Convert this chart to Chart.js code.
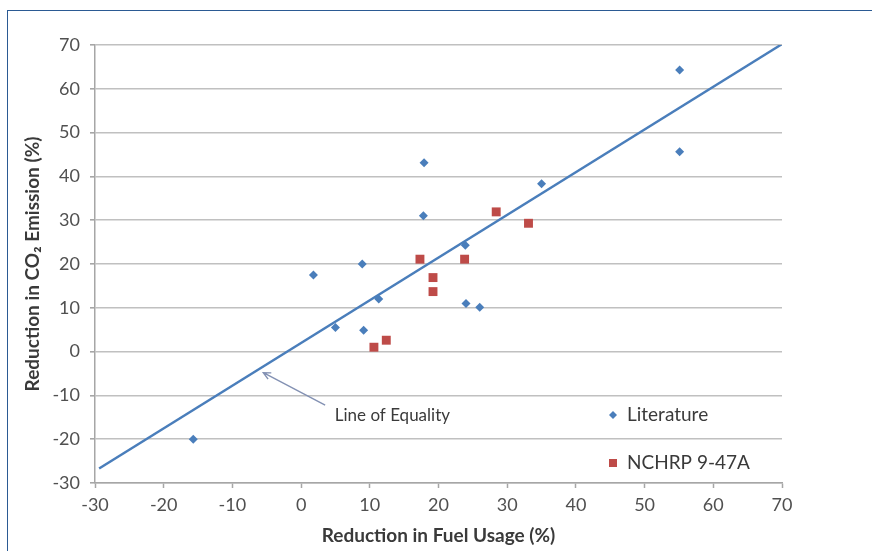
<!DOCTYPE html>
<html>
<head>
<meta charset="utf-8">
<script src="https://cdn.jsdelivr.net/npm/chart.js@4.4.1/dist/chart.umd.min.js"></script>
<style>
  html, body { margin: 0; padding: 0; background: #ffffff; }
  #wrap { position: relative; width: 872px; height: 551px; }
  #frame {
    position: absolute; left: 7px; top: 10px; width: 900px; height: 600px;
    border-left: 1.5px solid #2b5a93; border-top: 1.5px solid #2b5a93;
  }
  canvas { position: absolute; left: 0; top: 0; }
</style>
</head>
<body>
<div id="wrap">
  <div id="frame"></div>
  <canvas id="co2Chart" width="872" height="551"></canvas>
</div>
<script>
// Literature points (fuel reduction %, CO2 reduction %)
const literatureX = [-15.7, 1.8, 5.0, 8.9, 9.1, 11.3, 17.8, 17.9, 23.9, 24.0, 26.0, 35.0, 55.1, 55.1];
const literatureY = [-20.0, 17.5, 5.5, 20.0, 4.9, 12.0, 31.0, 43.1, 24.3, 11.0, 10.1, 38.3, 45.6, 64.3];

// NCHRP 9-47A points
const nchrpX = [10.6, 12.4, 17.3, 19.2, 19.2, 23.8, 28.4, 33.1];
const nchrpY = [1.0, 2.6, 21.1, 16.9, 13.7, 21.1, 31.9, 29.3];

// Line of equality end points
const equalityX = [-29.4, 70];
const equalityY = [-26.7, 70.2];

const xTicks = [-30, -20, -10, 0, 10, 20, 30, 40, 50, 60, 70];
const yTicks = [-30, -20, -10, 0, 10, 20, 30, 40, 50, 60, 70];

const seriesNames = ['Literature', 'NCHRP 9-47A'];
const annotationText = 'Line of Equality';
// arrow tip / tail and label anchor, in data units
const arrowTip = [-5.5, -4.8];
const arrowTail = [3.5, -12.2];
const labelAt = [4.9, -14.6];

const blue = '#4a7ebb';
const red = '#be4b48';
const font = 'Lato, "Open Sans", sans-serif';

const toPoints = (xs, ys) => xs.map((x, i) => ({ x: x, y: ys[i] }));

// draws the arrow note and the legend inside the plot
const extrasPlugin = {
    id: 'extras',
    afterDatasetsDraw(chart) {
        const ctx = chart.ctx;
        const xs = chart.scales.x, ys = chart.scales.y;
        const area = chart.chartArea;

        // arrow
        const tx = xs.getPixelForValue(arrowTip[0]), ty = ys.getPixelForValue(arrowTip[1]);
        const fx = xs.getPixelForValue(arrowTail[0]), fy = ys.getPixelForValue(arrowTail[1]);
        ctx.save();
        ctx.strokeStyle = '#8391b3';
        ctx.lineWidth = 1.4;
        ctx.beginPath();
        ctx.moveTo(fx, fy);
        ctx.lineTo(tx, ty);
        const ang = Math.atan2(ty - fy, tx - fx);
        const head = 8;
        ctx.moveTo(tx - head * Math.cos(ang - 0.45), ty - head * Math.sin(ang - 0.45));
        ctx.lineTo(tx, ty);
        ctx.lineTo(tx - head * Math.cos(ang + 0.45), ty - head * Math.sin(ang + 0.45));
        ctx.stroke();

        ctx.fillStyle = '#3a3a3a';
        ctx.font = '17px ' + font;
        ctx.textAlign = 'left';
        ctx.textBaseline = 'middle';
        ctx.fillText(annotationText, xs.getPixelForValue(labelAt[0]), ys.getPixelForValue(labelAt[1]));

        // legend
        const lx = area.right - 169;
        const rows = [area.bottom - 68, area.bottom - 20];
        ctx.font = '19px ' + font;
        ctx.fillStyle = blue;
        ctx.beginPath();
        ctx.moveTo(lx, rows[0] - 4);
        ctx.lineTo(lx + 4, rows[0]);
        ctx.lineTo(lx, rows[0] + 4);
        ctx.lineTo(lx - 4, rows[0]);
        ctx.closePath();
        ctx.fill();
        ctx.fillStyle = red;
        ctx.fillRect(lx - 4, rows[1] - 4, 8, 8);
        ctx.fillStyle = '#3a3a3a';
        ctx.fillText(seriesNames[0], lx + 14, rows[0]);
        ctx.fillText(seriesNames[1], lx + 14, rows[1]);
        ctx.restore();
    }
};

document.addEventListener('DOMContentLoaded', function() {
    new Chart(document.getElementById('co2Chart'), {
        type: 'scatter',
        data: {
            datasets: [
                {
                    label: seriesNames[0],
                    data: toPoints(literatureX, literatureY),
                    pointStyle: 'rectRot',
                    pointRadius: 4.5,
                    backgroundColor: blue,
                    borderColor: blue,
                    borderWidth: 0
                },
                {
                    label: seriesNames[1],
                    data: toPoints(nchrpX, nchrpY),
                    pointStyle: 'rect',
                    pointRadius: 6.3,
                    backgroundColor: red,
                    borderColor: red,
                    borderWidth: 0
                },
                {
                    label: annotationText,
                    type: 'line',
                    data: toPoints(equalityX, equalityY),
                    showLine: true,
                    pointRadius: 0,
                    borderColor: blue,
                    borderWidth: 2.5,
                    fill: false
                }
            ]
        },
        options: {
            responsive: false,
            animation: false,
            layout: { padding: { left: 17, top: 45, right: 90, bottom: 0 } },
            plugins: {
                legend: { display: false },
                tooltip: { enabled: false }
            },
            scales: {
                x: {
                    type: 'linear',
                    min: -30,
                    max: 70,
                    afterBuildTicks: (scale) => { scale.ticks = xTicks.map(v => ({ value: v })); },
                    afterFit: (scale) => { scale.height = 68; },
                    grid: { drawOnChartArea: false, tickLength: 5, tickColor: '#a6a6a6', tickWidth: 1.5 },
                    border: { color: '#a6a6a6', width: 1.5 },
                    ticks: { color: '#505050', font: { family: font, size: 18 }, padding: 6, maxRotation: 0 },
                    title: {
                        display: true,
                        text: 'Reduction in Fuel Usage (%)',
                        color: '#3a3a3a',
                        font: { family: font, size: 19, weight: 'bold' }
                    }
                },
                y: {
                    min: -30,
                    max: 70,
                    afterBuildTicks: (scale) => { scale.ticks = yTicks.map(v => ({ value: v })); },
                    afterFit: (scale) => { scale.width = 78; },
                    grid: { color: '#c0c0c0', lineWidth: 1.6, tickLength: 5, tickColor: '#a6a6a6' },
                    border: { color: '#a6a6a6', width: 1.5 },
                    ticks: { color: '#505050', font: { family: font, size: 18 }, padding: 10 },
                    title: {
                        display: true,
                        text: 'Reduction in CO\u2082 Emission (%)',
                        color: '#3a3a3a',
                        font: { family: font, size: 19, weight: 'bold' }
                    }
                }
            }
        },
        plugins: [extrasPlugin]
    });
});
</script>
</body>
</html>
